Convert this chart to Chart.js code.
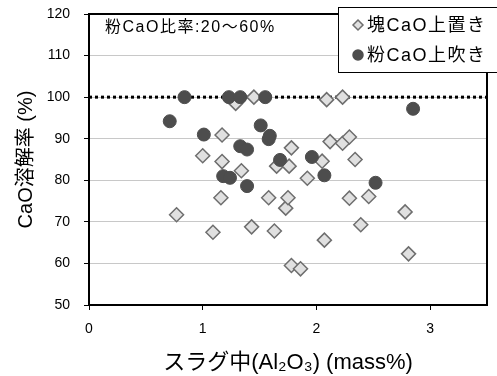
<!DOCTYPE html>
<html><head><meta charset="utf-8">
<script src="https://cdn.jsdelivr.net/npm/chart.js@4/dist/chart.umd.min.js"></script>
<style>html,body{margin:0;padding:0;background:#fff}#wrap{width:497px;height:376px}</style>
</head><body><div id="wrap"><canvas id="c" width="497" height="376"></canvas></div>
<script>
// ---- data ----
const lumpX = [0.77,1.00,1.09,1.16,1.17,1.17,1.29,1.34,1.43,1.45,1.58,1.63,1.65,1.73,1.75,1.76,1.78,1.78,1.86,1.92,2.05,2.07,2.09,2.12,2.23,2.23,2.29,2.29,2.34,2.39,2.46,2.78,2.81];
const lumpY = [71.7,85.9,67.5,75.8,90.9,84.5,98.5,82.3,68.8,100,75.8,67.8,83.4,73.3,75.8,83.4,87.8,59.5,58.7,80.5,84.6,65.6,99.4,89.3,100,88.9,90.4,75.7,85.0,69.3,76.1,72.4,62.3];
const powderX = [0.71,0.84,1.01,1.18,1.23,1.24,1.33,1.33,1.39,1.39,1.51,1.55,1.58,1.59,1.68,1.96,2.07,2.52,2.85];
const powderY = [94.2,100,91.0,81.0,100,80.6,100,88.2,87.4,78.6,93.2,100,89.9,90.7,84.9,85.6,81.2,79.4,97.2];
const refLineX = [0, 3.5];
const refLineY = [100, 100];
const xTicks = [0, 1, 2, 3];
const yTicks = [50, 60, 70, 80, 90, 100, 110, 120];
const seriesLabels = ['塊CaO上置き', '粉CaO上吹き'];
const noteText = '粉CaO比率:20～60%';
const xTitle = 'スラグ中(Al₂O₃) (mass%)';
const yTitle = 'CaO溶解率 (%)';

const FONT = '"Liberation Sans", "Noto Sans CJK JP", sans-serif';
const toPts = (xs, ys) => xs.map((x, i) => ({x, y: ys[i]}));

const boxPlugin = {
  id: 'boxAndLegend',
  afterDraw(chart) {
    const ctx = chart.ctx, a = chart.chartArea;
    ctx.save();
    ctx.strokeStyle = '#000';
    ctx.lineWidth = 2;
    ctx.strokeRect(a.left, a.top, a.right - a.left, a.bottom - a.top);
    // annotation
    ctx.fillStyle = '#000';
    ctx.font = '16px ' + FONT;
    ctx.letterSpacing = '1.5px';
    ctx.textBaseline = 'middle';
    ctx.textAlign = 'left';
    ctx.fillText(noteText, a.left + 16, a.top + 14);
    // legend box
    const lx = 338, ly = 7, lw = 170, lh = 65;
    ctx.fillStyle = '#fff';
    ctx.fillRect(lx, ly, lw, lh);
    ctx.lineWidth = 1;
    ctx.strokeStyle = '#000';
    ctx.strokeRect(lx + 0.5, ly + 0.5, lw, lh);
    const ds = chart.data.datasets;
    const rows = [ly + 18, ly + 48];
    [0, 1].forEach((k, i) => {
      const d = ds[k];
      ctx.fillStyle = d.backgroundColor;
      ctx.strokeStyle = d.borderColor;
      ctx.lineWidth = 1.5;
      ctx.beginPath();
      if (d.pointStyle === 'rectRot') {
        ctx.moveTo(358, rows[i] - 5); ctx.lineTo(363, rows[i]); ctx.lineTo(358, rows[i] + 5); ctx.lineTo(353, rows[i]); ctx.closePath();
      } else {
        ctx.arc(358, rows[i], 5, 0, Math.PI * 2);
      }
      ctx.fill(); ctx.stroke();
      ctx.fillStyle = '#000';
      ctx.font = '18px ' + FONT;
      ctx.letterSpacing = '1.5px';
      ctx.textBaseline = 'middle';
      ctx.textAlign = 'left';
      ctx.fillText(d.label, 367, rows[i] + 1);
    });
    ctx.restore();
  }
};

new Chart(document.getElementById('c'), {
  type: 'scatter',
  data: {
    datasets: [
      {label: seriesLabels[0], data: toPts(lumpX, lumpY), pointStyle: 'rectRot', pointRadius: 7, pointHoverRadius: 7,
       backgroundColor: '#e0e0e0', borderColor: '#6e6e6e', borderWidth: 1.5, order: 2},
      {label: seriesLabels[1], data: toPts(powderX, powderY), pointStyle: 'circle', pointRadius: 6.5, pointHoverRadius: 6.5,
       backgroundColor: '#4d4d4d', borderColor: '#4d4d4d', borderWidth: 1, order: 1},
      {label: 'ref', type: 'line', data: toPts(refLineX, refLineY), borderColor: '#000', borderWidth: 3,
       borderDash: [3, 3], pointRadius: 0, fill: false, order: 3}
    ]
  },
  options: {
    responsive: false,
    animation: false,
    devicePixelRatio: 1,
    layout: {padding: {left: 0, right: 10, top: 14, bottom: 0}},
    plugins: {legend: {display: false}, tooltip: {enabled: false}},
    scales: {
      x: {
        type: 'linear', min: 0, max: 3.5,
        afterBuildTicks: s => { s.ticks = xTicks.map(v => ({value: v})); },
        afterFit: s => { s.height = 71; s.paddingLeft = 0; s.paddingRight = 0; },
        grid: {display: true, drawOnChartArea: false, tickLength: 5, color: '#000'},
        border: {display: true, color: '#000', width: 2},
        ticks: {color: '#000', font: {family: FONT, size: 14}, padding: 11},
        title: {display: true, text: xTitle, color: '#000', font: {family: FONT, size: 22}, padding: {top: 0, bottom: 0}}
      },
      y: {
        type: 'linear', min: 50, max: 120,
        afterBuildTicks: s => { s.ticks = yTicks.map(v => ({value: v})); },
        afterFit: s => { s.width = 89; s.paddingTop = 0; s.paddingBottom = 0; },
        grid: {color: '#c8c8c8', tickColor: '#000', tickLength: 5},
        border: {display: true, color: '#000', width: 2},
        ticks: {color: '#000', font: {family: FONT, size: 14}, padding: 14},
        title: {display: true, text: yTitle, color: '#000', font: {family: FONT, size: 20}, padding: {top: 14, bottom: 0}}
      }
    }
  },
  plugins: [boxPlugin]
});
</script>
</body></html>
